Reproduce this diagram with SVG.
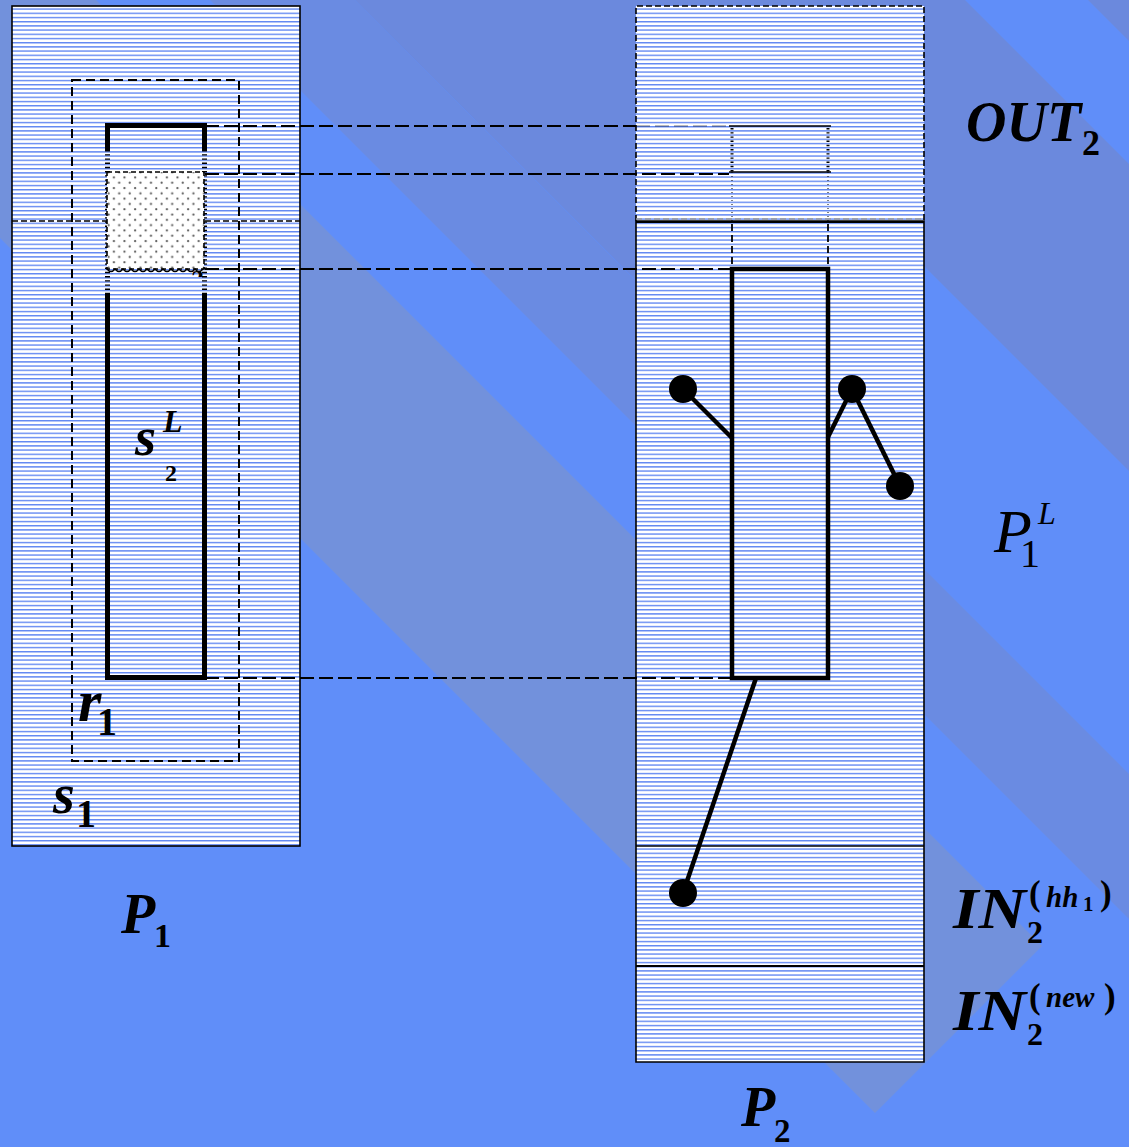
<svg xmlns="http://www.w3.org/2000/svg" width="1129" height="1147" viewBox="0 0 1129 1147">
<style>
.lbl{font-family:"Liberation Serif","Times New Roman",serif;fill:#000}
.bi{font-weight:bold;font-style:italic}
.b{font-weight:bold}
.it{font-style:italic}
.conn{stroke:#000;stroke-width:1.8;stroke-dasharray:14 5;fill:none}
.thick{stroke:#000;stroke-width:5;fill:none}
.link{stroke:#000;stroke-width:4.5;fill:none}
.band{fill:#6b89dd}
</style>
<defs>
<pattern id="hatch" patternUnits="userSpaceOnUse" width="8" height="4.2">
<rect width="8" height="4.2" fill="#fff"/>
<rect y="0" width="8" height="1.4" fill="#5f86f2"/>
</pattern>
<pattern id="dots" patternUnits="userSpaceOnUse" width="10.6" height="10.6">
<rect width="10.6" height="10.6" fill="#fff"/>
<circle cx="2.6" cy="2.6" r="1.1" fill="#555"/>
<circle cx="7.9" cy="7.9" r="1.1" fill="#555"/>
</pattern>
<clipPath id="clip2"><rect x="180" y="260" width="40" height="17"/></clipPath>
</defs>

<g id="background">
<rect width="1129" height="1147" fill="#608ef9"/>
<polygon points="0,0 96,0 1042,946 875,1113 0,238" fill="#7291dc"/>
<polygon points="210,0 355,0 1129,774 1129,919" fill="#6a8be2"/>
<polygon class="band" points="355,0 658,0 889,231 738,382"/>
<polygon class="band" points="658,0 965,0 1129,164 1129,471"/>
<polygon class="band" points="1088,0 1129,0 1129,41"/>
</g>

<g id="P1">
<rect x="12" y="6" width="288" height="840" fill="url(#hatch)" stroke="#000" stroke-width="1.6"/>
<line x1="12" y1="221" x2="107" y2="221" stroke="#000" stroke-width="1.6" stroke-dasharray="6 3"/>
<line x1="205" y1="221" x2="300" y2="221" stroke="#000" stroke-width="1.6" stroke-dasharray="6 3"/>
</g>

<g id="r1">
<rect x="72" y="80" width="167" height="681" fill="none" stroke="#000" stroke-width="2" stroke-dasharray="9 5"/>
</g>

<g id="s2L">
<path class="thick" d="M107.5,150 V125.5 H204.5 V150"/>
<path class="thick" d="M107.5,293 V677.5 H204.5 V293"/>
<line x1="107.5" y1="150" x2="107.5" y2="293" stroke="#000" stroke-width="5" stroke-dasharray="1.4 2.8"/>
<line x1="204.5" y1="150" x2="204.5" y2="293" stroke="#000" stroke-width="5" stroke-dasharray="1.4 2.8"/>
</g>

<g id="shaded">
<rect x="107" y="172" width="97" height="97" fill="url(#dots)" stroke="#000" stroke-width="1.6" stroke-dasharray="5 3"/>
<path d="M107,269 q4,5 8,0 q4,5 8,0 q4,5 8,0 q4,5 8,0 q4,5 8,0 q4,5 8,0 q4,5 8,0 q4,5 8,0 q4,5 8,0 q4,5 8,0 q4,5 8,0 q4,5 8,0" fill="none" stroke="#000" stroke-width="1.4"/>
<text class="lbl bi" x="190" y="288" font-size="26" clip-path="url(#clip2)">2</text>
</g>

<g id="P2">
<rect x="636" y="6" width="288" height="1056" fill="url(#hatch)"/>
<path d="M636,221 V6 H924 V221" fill="none" stroke="#000" stroke-width="1.6" stroke-dasharray="6 3"/>
<path d="M636,221 V1062 H924 V221 Z" fill="none" stroke="#000" stroke-width="1.6"/>
<line x1="636" y1="219" x2="924" y2="219" stroke="#999" stroke-width="1.4" stroke-dasharray="6 3"/>
<line x1="636" y1="222" x2="924" y2="222" stroke="#000" stroke-width="2"/>
<line x1="636" y1="846" x2="924" y2="846" stroke="#000" stroke-width="1.6"/>
<line x1="636" y1="966" x2="924" y2="966" stroke="#000" stroke-width="2.2"/>
</g>

<g id="out-box">
<line x1="729" y1="126" x2="831" y2="126" stroke="#000" stroke-width="1.4"/>
<line x1="729" y1="172" x2="831" y2="172" stroke="#000" stroke-width="1.4"/>
<line x1="732" y1="128" x2="732" y2="172" stroke="#000" stroke-width="3" stroke-dasharray="1.4 2.8"/>
<line x1="828" y1="128" x2="828" y2="172" stroke="#000" stroke-width="3" stroke-dasharray="1.4 2.8"/>
<line x1="732" y1="172" x2="732" y2="221" stroke="#000" stroke-width="1" stroke-dasharray="1 3"/>
<line x1="828" y1="172" x2="828" y2="221" stroke="#000" stroke-width="1" stroke-dasharray="1 3"/>
<line x1="732" y1="224" x2="732" y2="269" stroke="#000" stroke-width="1.8" stroke-dasharray="7 4"/>
<line x1="828" y1="224" x2="828" y2="269" stroke="#000" stroke-width="1.8" stroke-dasharray="7 4"/>
</g>

<g id="P1L-box">
<rect x="732" y="269" width="96" height="409" fill="none" stroke="#000" stroke-width="4.5"/>
</g>

<g id="connectors">
<line class="conn" x1="205" y1="126" x2="636" y2="126"/>
<line x1="636" y1="126" x2="729" y2="126" stroke="#000" stroke-width="1.4" stroke-dasharray="14 5" opacity="0.35"/>
<line class="conn" x1="205" y1="174" x2="729" y2="174"/>
<line class="conn" x1="205" y1="269" x2="732" y2="269"/>
<line class="conn" x1="205" y1="678" x2="732" y2="678"/>
<line class="link" x1="683" y1="389" x2="732" y2="438"/>
<line class="link" x1="828" y1="437" x2="852" y2="389"/>
<line class="link" x1="852" y1="389" x2="900" y2="486"/>
<line class="link" x1="756" y1="678" x2="683" y2="893"/>
</g>

<g id="nodes-dots">
<circle cx="683" cy="389" r="14" fill="#000"/>
<circle cx="852" cy="389" r="14" fill="#000"/>
<circle cx="900" cy="486" r="14" fill="#000"/>
<circle cx="683" cy="893" r="14" fill="#000"/>
</g>

<g id="labels">
<text class="lbl bi" x="966" y="141" font-size="56">OUT</text>
<text class="lbl b" x="1082" y="155" font-size="36">2</text>

<text class="lbl it" x="994" y="552" font-size="62">P</text>
<text class="lbl" x="1020" y="567" font-size="40">1</text>
<text class="lbl it" x="1038" y="524" font-size="32">L</text>

<text class="lbl bi" x="953" y="928" font-size="58" textLength="73" lengthAdjust="spacingAndGlyphs">IN</text>
<text class="lbl b" x="1027" y="943" font-size="32">2</text>
<text class="lbl b" x="1029" y="905" font-size="35">(</text>
<text class="lbl bi" x="1046" y="907" font-size="29">hh</text>
<text class="lbl b" x="1083" y="911" font-size="21">1</text>
<text class="lbl b" x="1100" y="905" font-size="35">)</text>

<text class="lbl bi" x="953" y="1030" font-size="58" textLength="73" lengthAdjust="spacingAndGlyphs">IN</text>
<text class="lbl b" x="1027" y="1045" font-size="32">2</text>
<text class="lbl b" x="1029" y="1008" font-size="35">(</text>
<text class="lbl bi" x="1046" y="1007" font-size="29">new</text>
<text class="lbl b" x="1104" y="1008" font-size="35">)</text>

<text class="lbl bi" x="121" y="933" font-size="56">P</text>
<text class="lbl b" x="154" y="947" font-size="34">1</text>

<text class="lbl bi" x="741" y="1126" font-size="56">P</text>
<text class="lbl b" x="774" y="1142" font-size="33">2</text>

<text class="lbl bi" x="53" y="813" font-size="56">s</text>
<text class="lbl b" x="76" y="827" font-size="40">1</text>

<text class="lbl bi" x="78" y="721" font-size="60">r</text>
<text class="lbl b" x="97" y="735" font-size="40">1</text>

<text class="lbl bi" x="135" y="455" font-size="54">s</text>
<text class="lbl bi" x="163" y="432" font-size="32">L</text>
<text class="lbl b" x="165" y="481" font-size="24">2</text>
</g>
</svg>
